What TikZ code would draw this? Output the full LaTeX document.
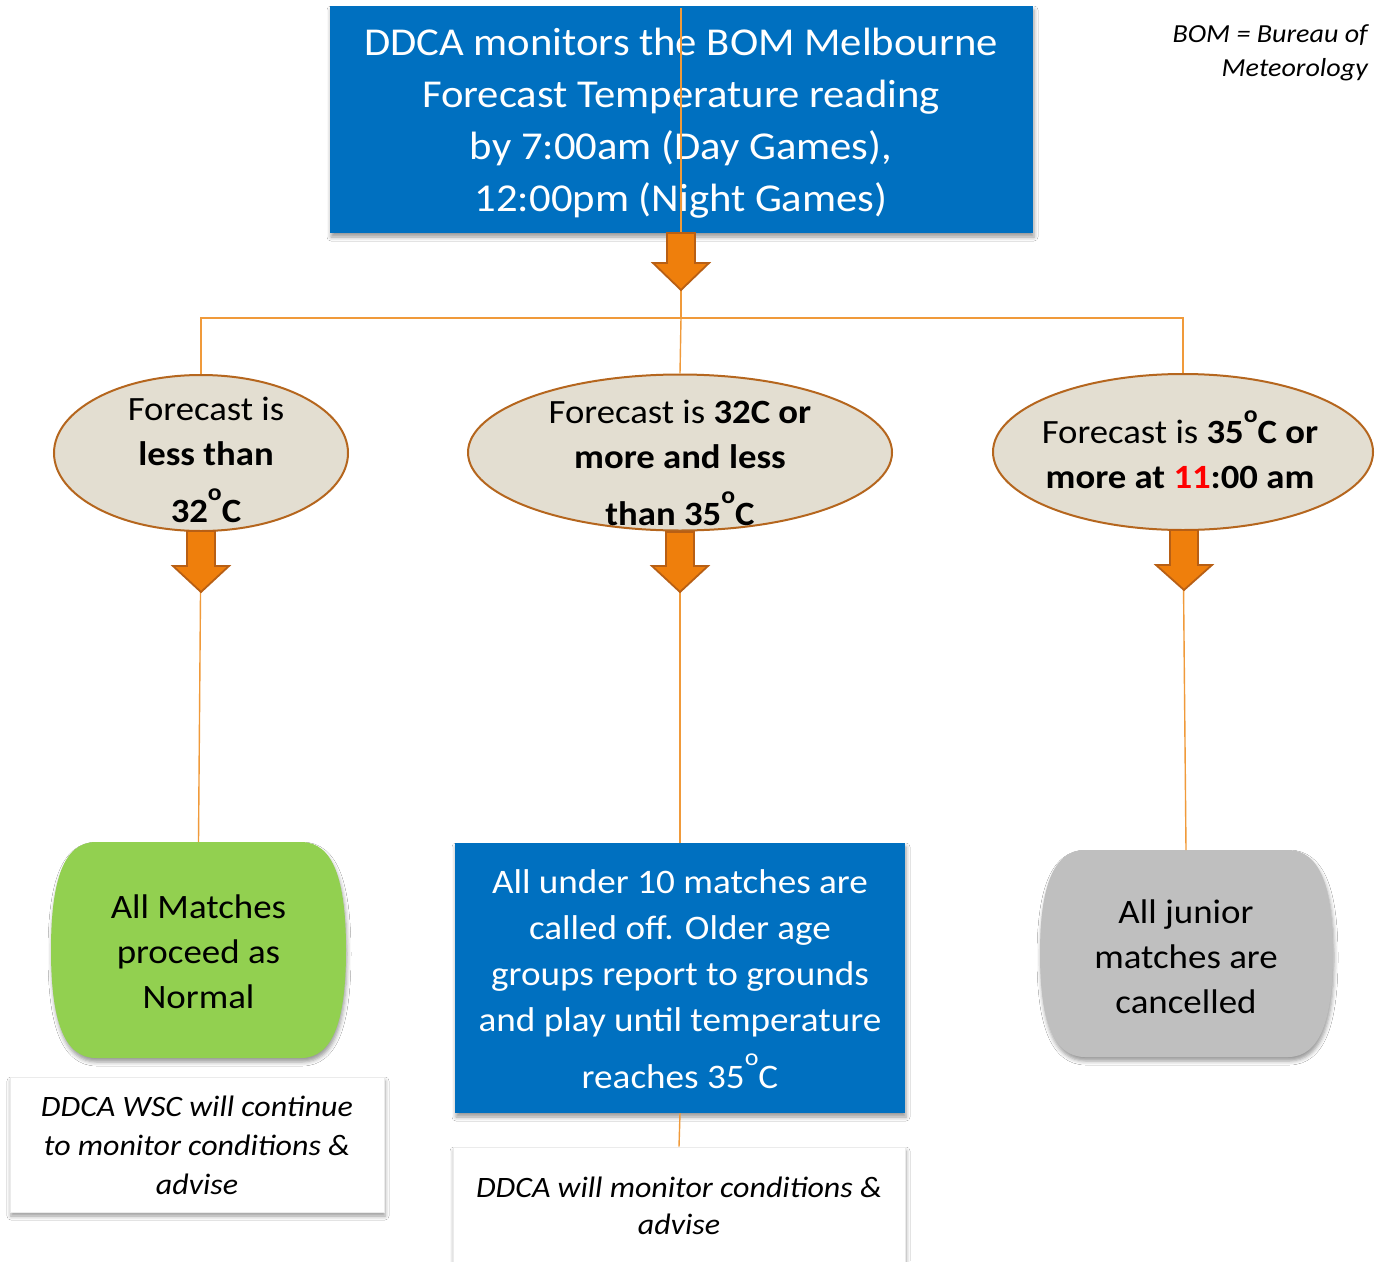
\documentclass[tikz,border=0pt]{standalone}
\usepackage{fontspec}
\setmainfont{Carlito}[FakeStretch=1.08]
\usetikzlibrary{shapes.geometric,shadows.blur}
\definecolor{ddblue}{HTML}{0070C0}
\definecolor{arrfill}{HTML}{EF7F0C}
\definecolor{arrdraw}{HTML}{B85F14}
\definecolor{connc}{HTML}{F09A3A}
\definecolor{ellfill}{HTML}{E3DED1}
\definecolor{elldraw}{HTML}{B5661E}
\definecolor{ddgreen}{HTML}{92D050}
\definecolor{ddgray}{HTML}{BFBFBF}
\newcommand{\dego}{\raisebox{0.64em}{\scalebox{0.7}{o}}}
\newcommand{\blockarr}[4]{%
  \draw[barr] ({#1-14},#2) -- ({#1+14},#2) -- ({#1+14},#3) -- ({#1+28},#3) -- (#1,#4)
    -- ({#1-28},#3) -- ({#1-14},#3) -- cycle;}
\newcommand{\barrelpath}[4]{%
  ({#1+45},#2) -- ({#3-45},#2) .. controls ({#3-12},#2) and (#3,{#2+40}) .. (#3,{(#2+#4)/2})
  .. controls (#3,{#4-40}) and ({#3-12},#4) .. ({#3-45},#4) -- ({#1+45},#4)
  .. controls ({#1+12},#4) and (#1,{#4-40}) .. (#1,{(#2+#4)/2})
  .. controls (#1,{#2+40}) and ({#1+12},#2) .. cycle}
\tikzset{
  shad/.style={blur shadow={shadow xshift=1pt,shadow yshift=-4pt,shadow blur radius=4pt,shadow opacity=40}},
  bluebox/.style={rectangle,fill=ddblue,inner sep=0pt,shad},
  whitebox/.style={rectangle,fill=white,draw=black!8,line width=0.6pt,inner sep=0pt,shad},
  ell/.style={ellipse,fill=ellfill,draw=elldraw,line width=2pt,inner sep=0pt},
  conn/.style={draw=connc,line width=1.4pt},
  barr/.style={fill=arrfill,draw=arrdraw,line width=1.8pt,line join=miter},
  bigtxt/.style={align=center,inner sep=0pt,text=white,font=\fontsize{39.5}{52}\selectfont},
  elltxt/.style={align=center,inner sep=0pt,text=black,font=\fontsize{34}{45}\selectfont},
  boxtxt/.style={align=center,inner sep=0pt,font=\fontsize{34.4}{46}\selectfont},
  shapetxt/.style={align=center,inner sep=0pt,text=black,font=\fontsize{34.2}{45}\selectfont},
  ittxt/.style={align=center,inner sep=0pt,text=black,font=\fontsize{29.6}{39}\selectfont\itshape},
}
\begin{document}
\begin{tikzpicture}[x=1pt,y=-1pt]
\useasboundingbox (0,0) rectangle (1384,1261);
\fill[white] (0,0) rectangle (1384,1261);

% note
\node[align=right,inner sep=0pt,anchor=east,font=\fontsize{26}{34}\selectfont\itshape] (note) at (1368,52.2)
  {\strut BOM = Bureau of\\Meteorology\strut};

% top box
\node[bluebox,minimum width=703pt,minimum height=227pt] (top) at (681.5,119.5) {};
\node[bigtxt] (toptxt) at (681,122.6)
  {\strut DDCA monitors the BOM Melbourne\\Forecast Temperature reading\\by 7:00am (Day Games),\\12:00pm (Night Games)\strut};

% ellipses
\node[ell,minimum width=294pt,minimum height=156pt] (e1) at (201,453) {};
\node[ell,minimum width=424pt,minimum height=156pt] (e2) at (680,452.5) {};
\node[ell,minimum width=380pt,minimum height=156pt] (e3) at (1183,452) {};

\node[elltxt] (e1t) at (206,462)
  {\strut Forecast is\\\textbf{less than}\\[12pt]\textbf{32\dego C}\strut};
\node[elltxt] (e2t) at (680,465)
  {\strut Forecast is \textbf{32C or}\\\textbf{more and less}\\[12pt]\textbf{than 35\dego C}\strut};
\node[elltxt] (e3t) at (1180,456.5)
  {\strut Forecast is \textbf{35\dego C or}\\\textbf{more at \textcolor{red}{11}:00 am}\strut};

% bottom shapes
\path[fill=ddgreen,shad] \barrelpath{51}{842}{346}{1058};
\coordinate (gtop) at (198.5,842);
\node[shapetxt] (gtxt) at (198.5,954) {\strut All Matches\\proceed as\\Normal\strut};

\path[fill=ddgray,shad] \barrelpath{1040}{850}{1333}{1057};
\coordinate (ytop) at (1186,850);
\node[shapetxt] (ytxt) at (1186,959) {\strut All junior\\matches are\\cancelled\strut};

\node[bluebox,minimum width=450pt,minimum height=270pt] (b2) at (680,978) {};
\node[boxtxt,text=white] (b2t) at (680,981.3)
  {\strut All under 10 matches are\\called off. Older age\\groups report to grounds\\and play until temperature\\[11pt]reaches 35\dego C\strut};

\node[whitebox,minimum width=374pt,minimum height=135pt] (w1) at (197,1144.5) {};
\node[ittxt] (w1t) at (197,1147.2) {\strut DDCA WSC will continue\\to monitor conditions \&\\advise\strut};

\node[whitebox,minimum width=452pt,minimum height=140pt] (w2) at (679,1217) {};
\node[ittxt,font=\fontsize{29.6}{37}\selectfont\itshape] (w2t) at (679,1208.1) {\strut DDCA will monitor conditions \&\\advise\strut};

% connectors
\coordinate (j) at (681,318);
\draw[conn] (681,8) -- (j);
\draw[conn] (j) -| (e1.north);
\draw[conn] (j) -- (e2.north);
\draw[conn] (j) -| (e3.north);
\draw[conn] (e1.south) -- (gtop);
\draw[conn] (e2.south) -- (b2.north);
\draw[conn] (e3.south) -- (ytop);
\draw[conn] (b2.south) -- (w2.north);

% block arrows
\blockarr{681}{233}{263}{290}
\blockarr{201}{531}{566}{592}
\blockarr{680}{532}{566}{592}
\blockarr{1184}{530}{565}{590}
\end{tikzpicture}
\end{document}
